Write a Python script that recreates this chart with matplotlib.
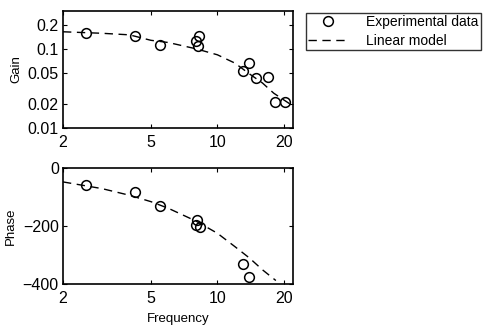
import matplotlib.pyplot as plt
from matplotlib.ticker import FixedLocator, FixedFormatter, NullLocator

# measured points
gain_freq = [2.55, 4.25, 5.5, 8.0, 8.28, 8.13, 13.06, 13.9, 14.97, 16.9, 18.3, 20.2]
gain_vals = [0.158, 0.146, 0.112, 0.124, 0.146, 0.107, 0.053, 0.067, 0.043, 0.0446, 0.0215, 0.0215]

phase_freq = [2.55, 4.25, 5.5, 8.1, 7.98, 8.3, 13.0, 13.9]
phase_vals = [-57, -82, -131, -180, -196, -202, -331, -377]

# model curves
model_freq = [2, 3, 4, 5, 6, 8, 10, 12, 14, 16, 18, 20, 22]
model_gain = [0.164, 0.157, 0.150, 0.128, 0.120, 0.100, 0.084, 0.066, 0.048, 0.037, 0.0275, 0.0226, 0.019]
model_phase_freq = [2, 3, 4, 5, 6, 8, 10, 12, 14, 16, 18.4]
model_phase = [-48, -71, -94, -116, -139, -183, -225, -271, -311, -351, -388]

freq_ticks = [2, 5, 10, 20]
gain_ticks = [0.01, 0.02, 0.05, 0.1, 0.2]
phase_ticks = [-400, -200, 0]


def style_axes(ax):
    ax.set_xscale("log")
    ax.set_xlim(2, 22)
    ax.xaxis.set_major_locator(FixedLocator(freq_ticks))
    ax.xaxis.set_major_formatter(FixedFormatter([str(t) for t in freq_ticks]))
    ax.xaxis.set_minor_locator(NullLocator())
    ax.tick_params(direction="in", top=True, right=True, length=3, width=0.8,
                   labelsize=11.5)
    ax.tick_params(axis="x", pad=5)
    ax.tick_params(axis="y", pad=3)
    for s in ax.spines.values():
        s.set_linewidth(1.2)


def main() -> None:
    plt.rcParams["font.family"] = ["Liberation Sans", "DejaVu Sans"]
    fig = plt.figure(figsize=(4.85, 3.25), dpi=100)

    ax1 = fig.add_axes([63 / 485, 1 - 128 / 325, 230 / 485, 117 / 325])
    ax2 = fig.add_axes([63 / 485, 1 - 284 / 325, 230 / 485, 116 / 325])

    dots, = ax1.plot(gain_freq, gain_vals, "o", mfc="none", mec="black", ms=7, mew=1.1,
                     label="Experimental data")
    line, = ax1.plot(model_freq, model_gain, color="black", lw=1.0, dashes=[6, 4],
                     label="Linear model")
    style_axes(ax1)
    ax1.set_yscale("log")
    ax1.set_ylim(0.01, 0.3)
    ax1.yaxis.set_major_locator(FixedLocator(gain_ticks))
    ax1.yaxis.set_major_formatter(FixedFormatter([str(t) for t in gain_ticks]))
    ax1.yaxis.set_minor_locator(NullLocator())
    ax1.set_ylabel("Gain", fontsize=9.5, labelpad=4)

    ax2.plot(phase_freq, phase_vals, "o", mfc="none", mec="black", ms=7, mew=1.1)
    ax2.plot(model_phase_freq, model_phase, color="black", lw=1.0, dashes=[6, 4])
    style_axes(ax2)
    ax2.set_ylim(-400, 0)
    ax2.set_yticks(phase_ticks)
    ax2.set_ylabel("Phase", fontsize=9.5, labelpad=4)
    ax2.set_xlabel("Frequency", fontsize=9.5, labelpad=5)

    leg = fig.legend(handles=[dots, line], loc="upper left",
                     bbox_to_anchor=(306 / 485, 1 - 13 / 325), fontsize=10,
                     frameon=True, fancybox=False, edgecolor="black",
                     handlelength=2.8, handletextpad=1.4, borderpad=0.15,
                     labelspacing=0.35, borderaxespad=0)
    leg.get_frame().set_linewidth(1.0)

    fig.savefig("out.png", dpi=100)
    plt.close(fig)


if __name__ == "__main__":
    main()
